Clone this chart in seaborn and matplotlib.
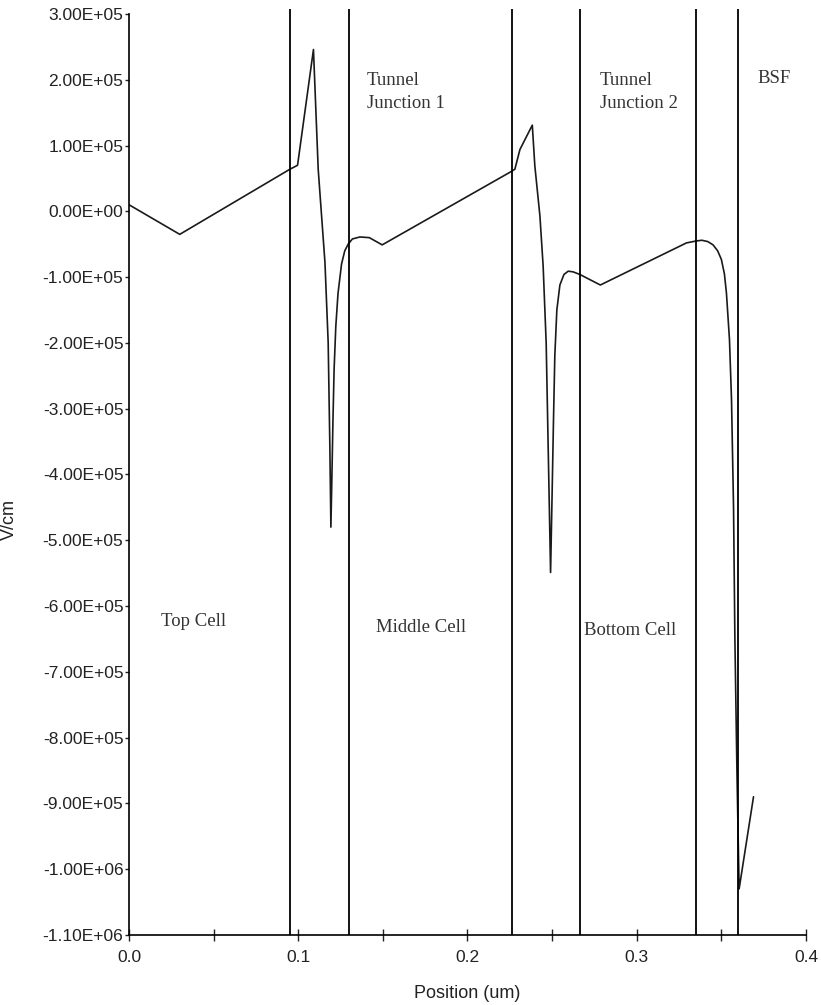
import matplotlib
matplotlib.use("Agg")
import matplotlib.pyplot as plt
from matplotlib.ticker import MultipleLocator, FuncFormatter
import numpy as np
import pandas as pd
import seaborn as sns

# electric field profile (position in um, field in V/cm)
position = [0.0, 0.03, 0.0951, 0.0996, 0.109, 0.1118, 0.1158, 0.1177, 0.1187, 0.1193,
            0.1200, 0.1205, 0.1212, 0.1222, 0.1235, 0.1256, 0.1275, 0.1295, 0.1320,
            0.1364, 0.142, 0.1496,
            0.2262, 0.228, 0.231, 0.2383, 0.2398, 0.2428, 0.2447, 0.2465, 0.2491,
            0.2500, 0.2508, 0.2516, 0.2528, 0.2546, 0.2570, 0.2595, 0.2624, 0.2664,
            0.2785,
            0.3294, 0.3353, 0.3385, 0.3420, 0.3451, 0.3478, 0.3500, 0.3518, 0.3530,
            0.3548, 0.3560, 0.3572, 0.3580, 0.3592, 0.3605, 0.369]
field = [1.0e4, -3.5e4, 6.4e4, 7.0e4, 2.46e5, 6.4e4, -7.8e4, -2.0e5, -3.6e5, -4.8e5,
         -3.9e5, -3.2e5, -2.4e5, -1.75e5, -1.25e5, -8.0e4, -6.0e4, -5.0e4, -4.2e4,
         -3.9e4, -4.0e4, -5.1e4,
         6.1e4, 6.4e4, 9.4e4, 1.31e5, 6.9e4, -7e3, -8.3e4, -2.0e5, -5.49e5,
         -4.3e5, -3.2e5, -2.2e5, -1.5e5, -1.12e5, -9.6e4, -9.1e4, -9.2e4, -9.6e4,
         -1.12e5,
         -4.8e4, -4.5e4, -4.4e4, -4.6e4, -5.1e4, -6.0e4, -7.3e4, -9.5e4, -1.24e5,
         -1.95e5, -2.86e5, -4.5e5, -6.5e5, -8.5e5, -1.03e6, -8.9e5]

# layer boundaries (um)
boundaries = [0.0951, 0.130, 0.2262, 0.2664, 0.3353, 0.3597]

# region labels: text, x, y
region_text = ["Tunnel\nJunction 1", "Tunnel\nJunction 2", "BSF", "Top Cell", "Middle Cell", "Bottom Cell"]
region_x = [0.1405, 0.2782, 0.3711, 0.0190, 0.1460, 0.2688]
region_y = [1.82e5, 1.82e5, 2.02e5, -6.24e5, -6.32e5, -6.37e5]

df = pd.DataFrame({"Position (um)": position, "V/cm": field})

sns.set_style("ticks")
plt.rcParams["font.family"] = ["Liberation Sans", "DejaVu Sans"]

fig = plt.figure(figsize=(8.21, 10.05), dpi=100)
ax = fig.add_axes([0.1571, 0.0697, 0.8246, 0.9164])

sns.lineplot(data=df, x="Position (um)", y="V/cm", sort=False, estimator=None,
             color="#1a1a1a", linewidth=1.2, ax=ax)

ax.vlines(boundaries, -1.1e6, 3.07e5, colors="black", linewidth=1.3, clip_on=False)

for t, x, y in zip(region_text, region_x, region_y):
    ax.text(x, y, t, family="Liberation Serif", fontsize=13.5, color="#333333",
            ha="left", va="center", linespacing=1.45)

ax.set_xlim(0, 0.4)
ax.set_ylim(-1.1e6, 3.0e5)
ax.xaxis.set_major_locator(MultipleLocator(0.1))
ax.xaxis.set_minor_locator(MultipleLocator(0.05))
ax.yaxis.set_major_locator(MultipleLocator(1e5))
ax.xaxis.set_major_formatter(FuncFormatter(lambda v, p: f"{v:.1f}"))
ax.yaxis.set_major_formatter(FuncFormatter(lambda v, p: f"{v:.2E}"))

sns.despine(ax=ax)
for s in ["left", "bottom"]:
    ax.spines[s].set_linewidth(1.2)
    ax.spines[s].set_color("black")

ax.tick_params(axis="y", direction="out", length=3, width=1, pad=1,
               labelsize=12.5, colors="#222222")
ax.tick_params(axis="x", which="both", direction="inout", length=8, width=1,
               pad=7, labelsize=12.5, colors="#222222")

ax.set_xlabel("Position (um)", fontsize=13, color="#222222")
ax.set_ylabel("V/cm", fontsize=13, color="#222222")
ax.xaxis.set_label_coords(0.499, -0.0543)
ax.yaxis.set_label_coords(-0.164, 0.4506)

fig.savefig("out.png", dpi=100)
